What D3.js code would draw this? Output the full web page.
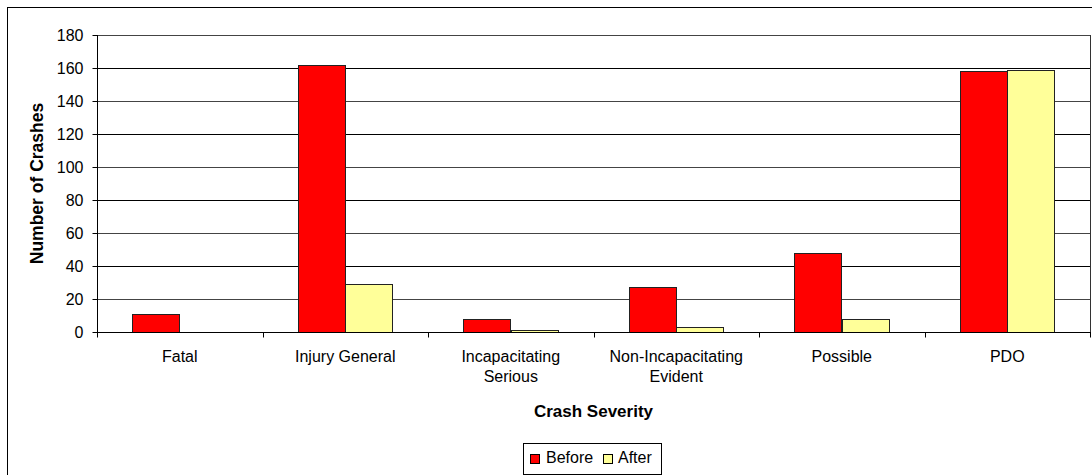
<!DOCTYPE html>
<html><head><meta charset="utf-8">
<script src="https://cdn.jsdelivr.net/npm/d3@7"></script>
<style>body{margin:0;background:#fff}svg{display:block;font-family:"Liberation Sans",Arial,sans-serif}</style>
</head><body><svg id="c" width="1092" height="475"></svg>
<script>
const categories = [["Fatal"],["Injury General"],["Incapacitating","Serious"],["Non-Incapacitating","Evident"],["Possible"],["PDO"]];
const seriesNames = ["Before","After"];
const beforeValues = [11,162,8,27,48,158];
const afterValues = [0,29,1,3,8,159];
const yTicks = [0,20,40,60,80,100,120,140,160,180];
const colors = ["#FF0000","#FFFF99"];

const svg = d3.select("#c");
const L=97,R=1090,T=35,B=332;
const FS=16;
svg.append("rect").attr("x",7.5).attr("y",7.5).attr("width",1100).attr("height",500).attr("fill","none").attr("stroke","#000").attr("stroke-width",1);

const x0 = d3.scaleBand().domain(d3.range(categories.length)).range([L,R]).paddingInner(0).paddingOuter(0);
const step = x0.bandwidth();
const bw = step/3.5;
const y = d3.scaleLinear().domain([0,180]).range([B,T]);

// gridlines
svg.append("g").selectAll("line").data(yTicks.filter(d=>d>0)).join("line")
  .attr("x1",L).attr("x2",R).attr("y1",d=>Math.round(y(d))+0.5).attr("y2",d=>Math.round(y(d))+0.5)
  .attr("stroke",(d,i)=>i%2?"#000":"#444").attr("stroke-width",1);
// right border
svg.append("line").attr("x1",R+0.5).attr("x2",R+0.5).attr("y1",T).attr("y2",B).attr("stroke","#333");

const data = categories.map((c,i)=>[beforeValues[i],afterValues[i]]);
const g = svg.append("g");
data.forEach((vals,i)=>{
  const cx = x0(i)+step/2;
  vals.forEach((v,j)=>{
    const xs = cx - bw + j*bw;
    g.append("rect").attr("x",Math.round(xs)+0.5).attr("y",Math.round(y(v))+0.5)
      .attr("width",Math.round(bw)).attr("height",Math.max(0,Math.round(y(0))-Math.round(y(v))))
      .attr("fill",colors[j]).attr("stroke","#222").attr("stroke-width",1);
  });
});

// y axis
const ya = svg.append("g").attr("transform",`translate(${L+0.5},0)`)
  .call(d3.axisLeft(y).tickValues(yTicks).tickSize(5).tickPadding(9));
ya.select(".domain").attr("d",`M0,${T}V${Math.round(B)+0.5}`).attr("stroke","#000");
ya.selectAll(".tick line").attr("stroke","#000");
ya.selectAll("text").attr("font-size",FS).attr("fill","#000").attr("font-family","Liberation Sans, Arial");

// x axis
const xa = svg.append("g").attr("transform",`translate(0,${Math.round(B)+0.5})`);
xa.append("line").attr("x1",L).attr("x2",R+1).attr("stroke","#000");
xa.selectAll("line.t").data(d3.range(categories.length+1)).join("line").attr("class","t")
  .attr("x1",i=>Math.round(L+i*step)+0.5).attr("x2",i=>Math.round(L+i*step)+0.5).attr("y1",0).attr("y2",5).attr("stroke","#000");
categories.forEach((c,i)=>{
  const t = svg.append("text").attr("x",x0(i)+step/2).attr("y",362).attr("text-anchor","middle").attr("font-size",FS).attr("fill","#000");
  c.forEach((line,k)=>t.append("tspan").attr("x",x0(i)+step/2).attr("dy",k?20:0).text(line));
});

svg.append("text").attr("x",(L+R)/2).attr("y",417).attr("text-anchor","middle").attr("font-size",17).attr("font-weight","bold").text("Crash Severity");
svg.append("text").attr("transform",`translate(43,${(T+B)/2}) rotate(-90)`).attr("text-anchor","middle").attr("font-size",17.5).attr("font-weight","bold").text("Number of Crashes");

// legend
const lg = svg.append("g");
lg.append("rect").attr("x",523.5).attr("y",443.5).attr("width",138).attr("height",31).attr("fill","#fff").attr("stroke","#000");
const items=[{x:530,tx:546},{x:603,tx:618}];
seriesNames.forEach((n,j)=>{
  lg.append("rect").attr("x",items[j].x+0.5).attr("y",454.5).attr("width",9).attr("height",9).attr("fill",colors[j]).attr("stroke","#000");
  lg.append("text").attr("x",items[j].tx).attr("y",463).attr("font-size",FS).text(n);
});
</script></body></html>
